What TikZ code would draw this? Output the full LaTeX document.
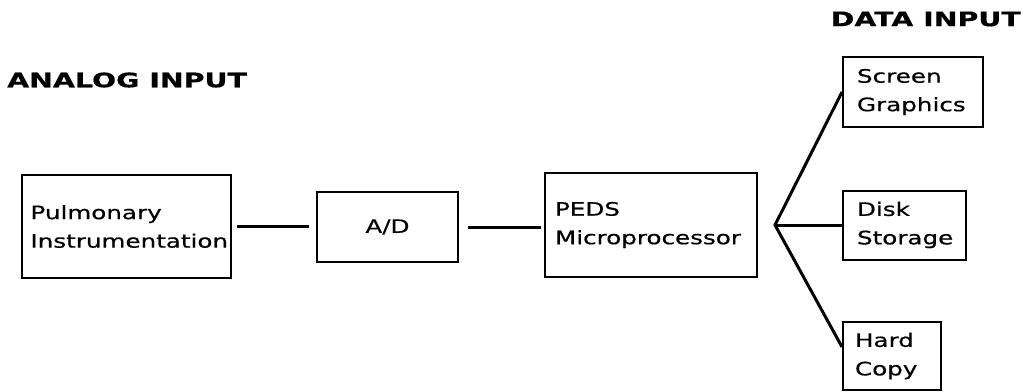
\documentclass[tikz,border=0pt]{standalone}
\usepackage{fontspec}
\setmainfont{DejaVu Sans}[FakeStretch=1.33, FakeBold=0.6]
\newfontfamily\headfont{DejaVu Sans Bold}[FakeStretch=1.42, FakeBold=0.6]
\begin{document}
\begin{tikzpicture}[x=1pt,y=-1pt,
  box/.style={draw, line width=2pt, inner sep=0pt, font=\fontsize{18.5}{28.5}\selectfont},
  wire/.style={line width=3pt},
  heading/.style={font=\fontsize{20}{22}\selectfont\headfont, inner sep=0pt}]
\useasboundingbox (0,0) rectangle (1035,391);
\node[box, minimum width=209pt, minimum height=103pt, text width=192pt, align=left] (pulm) at (126.5,226.5) {Pulmonary\\Instrumentation};
\node[box, minimum width=141pt, minimum height=70pt, align=center] (ad) at (387.5,227) {A/D};
\node[box, minimum width=212pt, minimum height=104pt, text width=192pt, align=left] (peds) at (651,225) {PEDS\\Microprocessor};
\node[box, minimum width=140pt, minimum height=70pt, text width=112pt, align=left] (screen) at (913,92) {Screen\\Graphics};
\node[box, minimum width=123pt, minimum height=69pt, text width=95pt, align=left] (disk) at (904.5,225) {Disk\\Storage};
\node[box, minimum width=98pt, minimum height=68pt, text width=74pt, align=left] (hard) at (892,356) {Hard\\Copy};
\node[heading, anchor=west] (analog) at (7,80) {ANALOG INPUT};
\node[heading, anchor=east] (data) at (1021,19) {DATA INPUT};
\coordinate (branch) at (775,225);
\draw[wire, shorten <=5pt, shorten >=7pt] (pulm.east) -- (pulm.east -| ad.west);
\draw[wire, shorten <=9pt, shorten >=3pt] (ad.east) -- (ad.east -| peds.west);
\draw[wire, line join=miter] (screen.west) -- (branch) -- ([yshift=9pt]hard.west);
\draw[wire] (branch) -- (disk.west);
\end{tikzpicture}
\end{document}
